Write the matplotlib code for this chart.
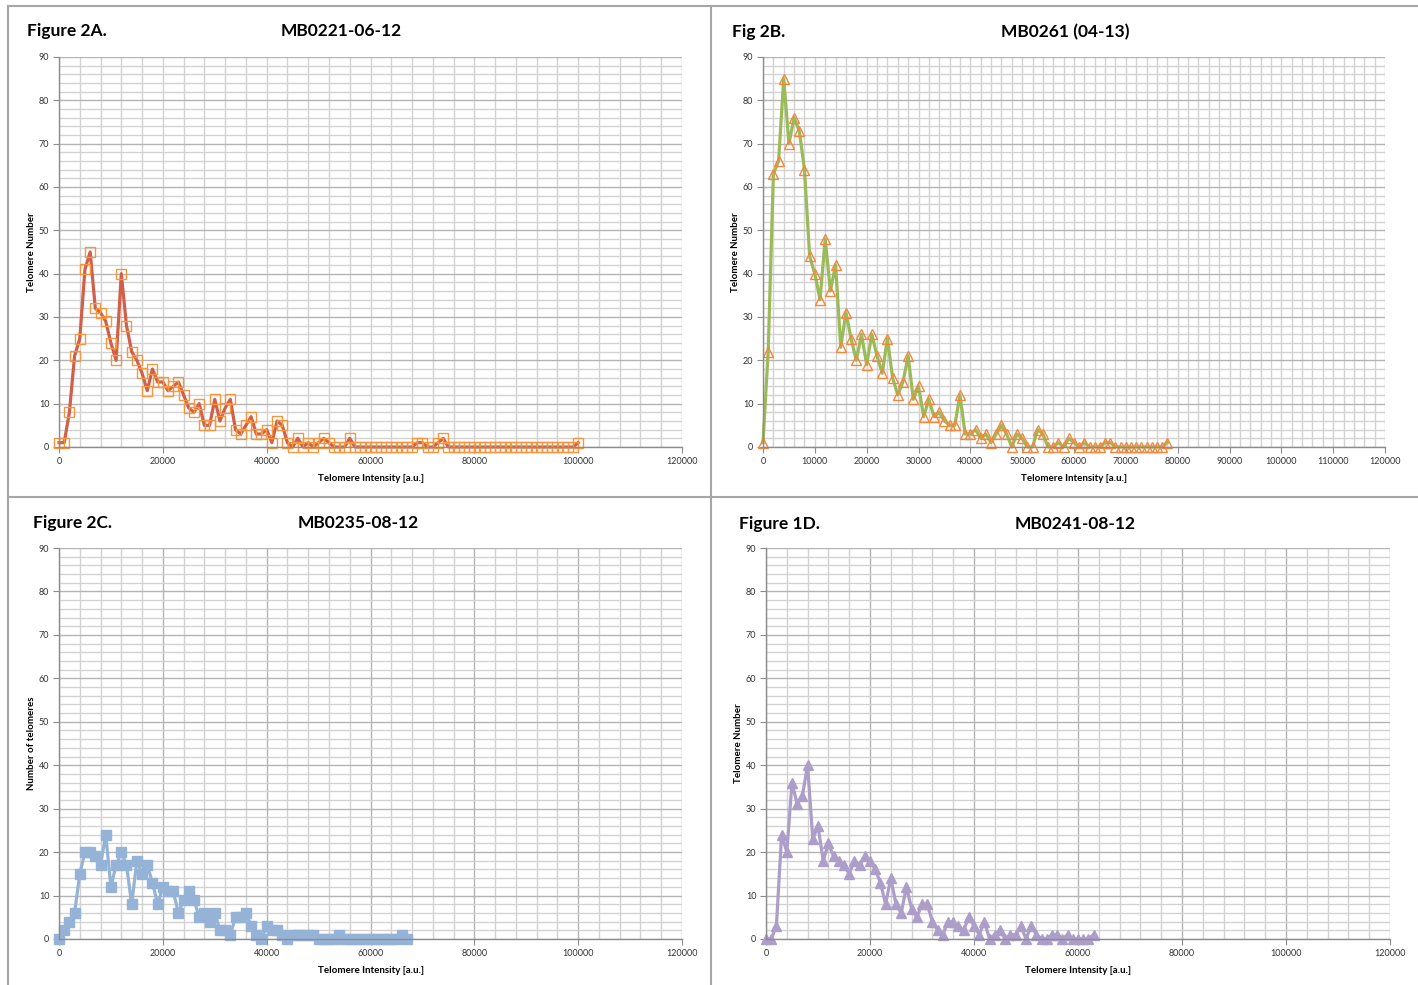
import numpy as np
import matplotlib
matplotlib.use("Agg")
import matplotlib.pyplot as plt
from matplotlib.lines import Line2D
from matplotlib.ticker import MultipleLocator

plt.rcParams["font.family"] = ["Lato", "DejaVu Sans"]

# ---- data (telomere intensity bins in a.u., counts) ----
x_a = np.arange(0, 101000, 1000)
y_a = [1, 1, 8, 21, 25, 41, 45, 32, 31, 29, 24, 20, 40, 28, 22, 20, 17, 13, 18, 15,
       15, 13, 14, 15, 12, 9, 8, 10, 5, 5, 11, 6, 9, 11, 4, 3, 5, 7, 3, 3,
       4, 1, 6, 5, 1, 0, 2, 0, 1, 0, 1, 2, 1, 0, 0, 0, 2, 0, 0, 0,
       0, 0, 0, 0, 0, 0, 0, 0, 0, 1, 1, 0, 0, 1, 2, 0, 0, 0, 0, 0,
       0, 0, 0, 0, 0, 0, 0, 0, 0, 0, 0, 0, 0, 0, 0, 0, 0, 0, 0, 0, 1]

x_b = np.arange(0, 79000, 1000)
y_b = [1, 22, 63, 66, 85, 70, 76, 73, 64, 44, 40, 34, 48, 36, 42, 23, 31, 25, 20, 26,
       19, 26, 21, 17, 25, 16, 12, 15, 21, 11, 14, 7, 11, 7, 8, 6, 5, 5, 12, 3,
       3, 4, 2, 3, 1, 3, 5, 3, 0, 3, 2, 0, 0, 4, 3, 0, 0, 1, 0, 2,
       1, 0, 1, 0, 0, 0, 1, 1, 0, 0, 0, 0, 0, 0, 0, 0, 0, 0, 1]

x_c = np.arange(0, 68000, 1000)
y_c = [0, 2, 4, 6, 15, 20, 20, 19, 17, 24, 12, 17, 20, 17, 8, 18, 15, 17, 13, 8,
       12, 11, 11, 6, 9, 11, 9, 5, 6, 4, 6, 2, 2, 1, 5, 5, 6, 3, 1, 0,
       3, 2, 2, 1, 0, 1, 1, 1, 1, 1, 0, 0, 0, 0, 1, 0, 0, 0, 0, 0,
       0, 0, 0, 0, 0, 0, 1, 0]

x_d = np.arange(0, 64000, 1000)
y_d = [0, 0, 3, 24, 20, 36, 31, 33, 40, 23, 26, 18, 22, 19, 18, 17, 15, 18, 17, 19,
       18, 16, 13, 8, 14, 8, 6, 12, 7, 5, 8, 8, 4, 2, 1, 4, 4, 3, 2, 5,
       3, 1, 4, 0, 1, 2, 0, 1, 1, 3, 0, 3, 1, 0, 0, 1, 1, 0, 1, 0,
       0, 0, 0, 1]

W, H = 1418, 985
fig = plt.figure(figsize=(W / 100, H / 100), dpi=100)


def rect(l, t, r, b):
    return [l / W, 1 - b / H, (r - l) / W, (b - t) / H]


def style_axes(ax, xmajor, xminor, ylabel, dark_x=True):
    ax.set_xlim(0, 120000)
    ax.set_ylim(0, 90)
    ax.xaxis.set_major_locator(MultipleLocator(xmajor))
    ax.xaxis.set_minor_locator(MultipleLocator(xminor))
    ax.yaxis.set_major_locator(MultipleLocator(10))
    ax.yaxis.set_minor_locator(MultipleLocator(2))
    ax.grid(which="minor", color="#d2d2d2", lw=1.0)
    ax.yaxis.grid(which="major", color="#b4b4b4", lw=1.0)
    ax.xaxis.grid(which="major", color="#b4b4b4" if dark_x else "#d2d2d2", lw=1.0)
    ax.set_axisbelow(True)
    for s in ["top", "right"]:
        ax.spines[s].set_visible(False)
    for s in ["left", "bottom"]:
        ax.spines[s].set_color("#8c8c8c")
        ax.spines[s].set_linewidth(1.0)
    ax.tick_params(which="major", direction="out", length=4, color="#8c8c8c",
                   labelsize=6.5, labelcolor="#333333", pad=3)
    ax.tick_params(which="minor", length=0)
    ax.set_xlabel("Telomere Intensity [a.u.]", fontsize=7, fontweight="bold", labelpad=6)
    ax.set_ylabel(ylabel, fontsize=7, fontweight="bold", labelpad=2)


# Panel A
ax = fig.add_axes(rect(59, 57, 682, 447))
style_axes(ax, 20000, 4000, "Telomere Number", dark_x=False)
ax.plot(x_a, y_a, color="#d0604a", lw=2.3, marker="s", ms=6.5, mfc="none",
        mec="#f7963c", mew=1.0, clip_on=False)

# Panel B
ax = fig.add_axes(rect(763, 57, 1385, 447))
style_axes(ax, 10000, 2000, "Telomere Number", dark_x=False)
ax.plot(x_b, y_b, color="#9bbb59", lw=2.3, marker="^", ms=7, mfc="none",
        mec="#f7863c", mew=1.0, clip_on=False)

# Panel C
ax = fig.add_axes(rect(59, 548, 682, 939))
style_axes(ax, 20000, 4000, "Number of telomeres")
ax.plot(x_c, y_c, color="#95b3d7", lw=2.3, marker="s", ms=6.5, mfc="#95b3d7",
        mec="#95b3d7", clip_on=False)

# Panel D
ax = fig.add_axes(rect(766, 548, 1390, 939))
style_axes(ax, 20000, 4000, "Telomere Number")
ax.plot(x_d, y_d, color="#ac9ec9", lw=2.3, marker="^", ms=7, mfc="#ac9ec9",
        mec="#ac9ec9", clip_on=False)

# panel headings
heads = [("Figure 2A.", 27, 31, "MB0221-06-12", 341),
         ("Fig 2B.", 732, 32, "MB0261 (04-13)", 1065),
         ("Figure 2C.", 33, 523, "MB0235-08-12", 358),
         ("Figure 1D.", 739, 524, "MB0241-08-12", 1075)]
for lab, lx, y, title, tx in heads:
    fig.text(lx / W, 1 - y / H, lab, fontsize=12.5, fontweight="bold", va="center", ha="left")
    fig.text(tx / W, 1 - y / H, title, fontsize=12.5, fontweight="bold", va="center", ha="center")

# panel frames
fc = "#a6a6a6"
fig.add_artist(Line2D([8 / W, 8 / W], [0, 1 - 6 / H], color=fc, lw=1.5))
fig.add_artist(Line2D([8 / W, 1], [1 - 6 / H, 1 - 6 / H], color=fc, lw=1.5))
fig.add_artist(Line2D([711 / W, 711 / W], [0, 1 - 6 / H], color=fc, lw=1.5))
fig.add_artist(Line2D([8 / W, 1], [1 - 497 / H, 1 - 497 / H], color=fc, lw=1.5))

fig.savefig("out.png", dpi=100)
